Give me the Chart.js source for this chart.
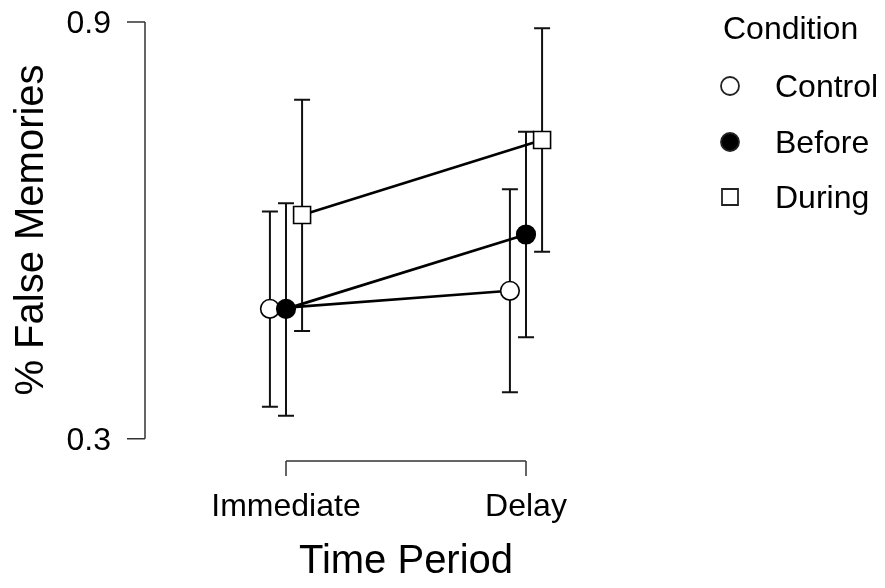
<!DOCTYPE html>
<html>
<head>
<meta charset="utf-8">
<script src="https://cdn.jsdelivr.net/npm/chart.js@4"></script>
<style>
  html, body { margin: 0; padding: 0; background: #fff; }
  #wrap { width: 885px; height: 588px; }
</style>
</head>
<body>
<div id="wrap"><canvas id="c" width="885" height="588"></canvas></div>
<script>
// ---- data ----
const categories = ['Immediate', 'Delay'];
const conditions = ['Control', 'Before', 'During'];
const controlMean = [0.487, 0.513];
const controlLow  = [0.346, 0.367];
const controlHigh = [0.627, 0.659];
const beforeMean  = [0.487, 0.594];
const beforeLow   = [0.333, 0.446];
const beforeHigh  = [0.639, 0.742];
const duringMean  = [0.622, 0.730];
const duringLow   = [0.455, 0.569];
const duringHigh  = [0.788, 0.891];
const yTicks = [0.3, 0.9];
const yTitle = '% False Memories';
const xTitle = 'Time Period';
const legendTitle = 'Condition';

const FONT = '"Liberation Sans", Arial, sans-serif';
const dodge = [-0.067, 0, 0.067];
const means = [controlMean, beforeMean, duringMean];
const lows = [controlLow, beforeLow, duringLow];
const highs = [controlHigh, beforeHigh, duringHigh];
const styles = [
  { pointStyle: 'circle', radius: 9.3, bg: '#ffffff' },
  { pointStyle: 'circle', radius: 9.3, bg: '#000000' },
  { pointStyle: 'rect', radius: 12, bg: '#ffffff' }
];

const datasets = conditions.map((name, i) => ({
  label: name,
  data: categories.map((c, j) => ({ x: j + 1 + dodge[i], y: means[i][j] })),
  showLine: true,
  borderColor: '#000',
  borderWidth: 2.7,
  pointStyle: styles[i].pointStyle,
  pointRadius: styles[i].radius,
  pointHoverRadius: styles[i].radius,
  pointBackgroundColor: styles[i].bg,
  pointBorderColor: '#000',
  pointBorderWidth: 1.6,
  order: 3 - i
}));

const rPlugin = {
  id: 'rstyle',
  beforeDatasetsDraw(chart) {
    const ctx = chart.ctx, xs = chart.scales.x, ys = chart.scales.y;
    ctx.save();
    ctx.strokeStyle = '#111';
    ctx.lineWidth = 2;
    means.forEach((m, i) => {
      categories.forEach((c, j) => {
        const px = xs.getPixelForValue(j + 1 + dodge[i]);
        const pl = ys.getPixelForValue(lows[i][j]);
        const ph = ys.getPixelForValue(highs[i][j]);
        ctx.beginPath();
        ctx.moveTo(px, pl); ctx.lineTo(px, ph);
        ctx.moveTo(px - 8, pl); ctx.lineTo(px + 8, pl);
        ctx.moveTo(px - 8, ph); ctx.lineTo(px + 8, ph);
        ctx.stroke();
      });
    });
    ctx.restore();
  },
  afterDraw(chart) {
    const ctx = chart.ctx, xs = chart.scales.x, ys = chart.scales.y;
    const area = chart.chartArea;
    ctx.save();
    ctx.strokeStyle = '#333';
    ctx.lineWidth = 1.5;
    ctx.fillStyle = '#000';
    // y axis
    const yTop = ys.getPixelForValue(yTicks[yTicks.length - 1]);
    const yBot = ys.getPixelForValue(yTicks[0]);
    ctx.beginPath();
    ctx.moveTo(area.left, yTop); ctx.lineTo(area.left, yBot);
    yTicks.forEach(t => {
      const p = ys.getPixelForValue(t);
      ctx.moveTo(area.left, p); ctx.lineTo(area.left - 18, p);
    });
    // x axis
    const x0 = xs.getPixelForValue(1), x1 = xs.getPixelForValue(categories.length);
    ctx.moveTo(x0, area.bottom); ctx.lineTo(x1, area.bottom);
    categories.forEach((c, j) => {
      const p = xs.getPixelForValue(j + 1);
      ctx.moveTo(p, area.bottom); ctx.lineTo(p, area.bottom + 15);
    });
    ctx.stroke();

    ctx.font = '32px ' + FONT;
    ctx.textAlign = 'right';
    ctx.textBaseline = 'alphabetic';
    yTicks.forEach(t => {
      const p = ys.getPixelForValue(t);
      ctx.fillText(t.toFixed(1), area.left - 34, p + 11);
    });
    ctx.textAlign = 'center';
    categories.forEach((c, j) => {
      ctx.fillText(c, xs.getPixelForValue(j + 1), 516);
    });
    ctx.font = '40px ' + FONT;
    ctx.fillText(xTitle, (x0 + x1) / 2, 573);
    ctx.save();
    ctx.translate(43, 230);
    ctx.rotate(-Math.PI / 2);
    ctx.textAlign = 'center';
    ctx.fillText(yTitle, 0, 0);
    ctx.restore();

    // legend
    ctx.font = '32px ' + FONT;
    ctx.textAlign = 'left';
    ctx.fillText(legendTitle, 723, 39);
    const ly = [86, 142, 197];
    conditions.forEach((name, i) => {
      const cy = ly[i];
      ctx.fillStyle = '#000';
      ctx.fillText(name, 775, cy + 11);
      ctx.lineWidth = 1.8;
      ctx.strokeStyle = '#222';
      ctx.beginPath();
      if (styles[i].pointStyle === 'rect') {
        ctx.rect(730 - 8, cy - 8, 16, 16);
        ctx.fillStyle = '#fff';
      } else {
        ctx.arc(730, cy, 9, 0, Math.PI * 2);
        ctx.fillStyle = styles[i].bg;
      }
      ctx.fill();
      ctx.stroke();
    });
    ctx.restore();
  }
};

new Chart(document.getElementById('c'), {
  type: 'scatter',
  data: { datasets },
  options: {
    responsive: false,
    animation: false,
    devicePixelRatio: 1,
    layout: { autoPadding: false, padding: { left: 145, right: 185, top: 8, bottom: 127 } },
    scales: {
      x: { type: 'linear', min: 0.4125, max: 2.725, display: false },
      y: { type: 'linear', min: 0.268, max: 0.92, display: false }
    },
    plugins: { legend: { display: false }, tooltip: { enabled: false } }
  },
  plugins: [rPlugin]
});
</script>
</body>
</html>
